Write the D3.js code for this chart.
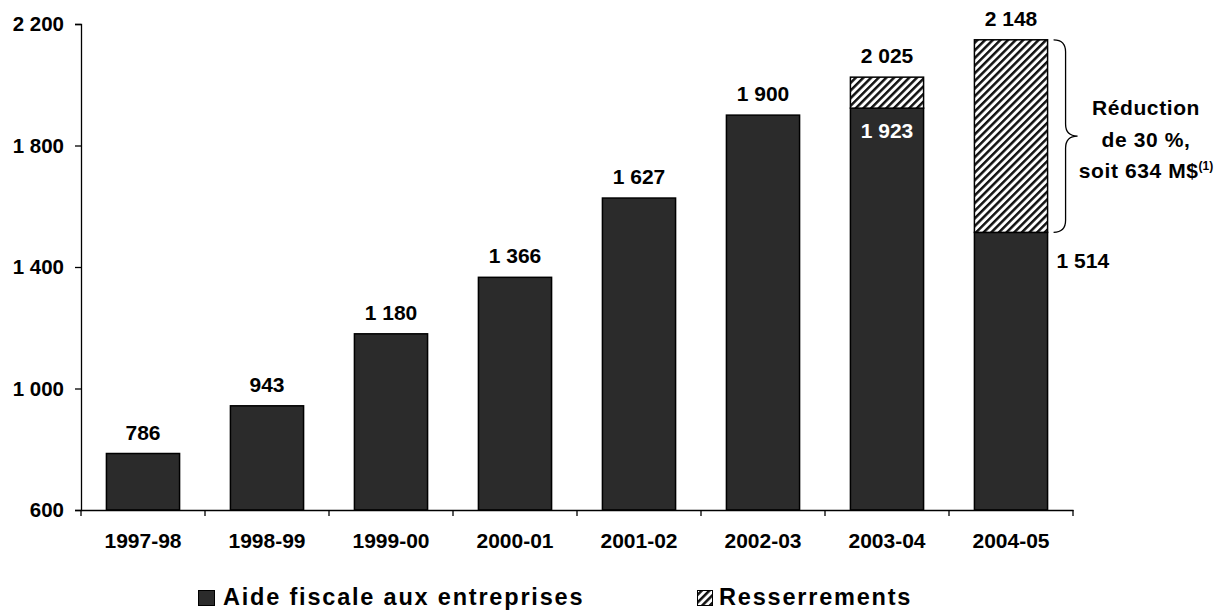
<!DOCTYPE html>
<html><head><meta charset="utf-8">
<script src="https://cdn.jsdelivr.net/npm/d3@7"></script>
<style>body{margin:0;background:#fff}svg{display:block;font-family:"Liberation Sans",Arial,sans-serif;font-weight:bold}</style>
</head><body><svg id="c" width="1229" height="611"></svg>
<script>
const categories = ["1997-98","1998-99","1999-00","2000-01","2001-02","2002-03","2003-04","2004-05"];
const aide = [786, 943, 1180, 1366, 1627, 1900, 1923, 1514];
const resserrements = [0, 0, 0, 0, 0, 0, 102, 634];
const totals = [786, 943, 1180, 1366, 1627, 1900, 2025, 2148];
const yTicks = [600, 1000, 1400, 1800, 2200];
const legendLabels = ["Aide fiscale aux entreprises", "Resserrements"];
const annotationLines = ["Réduction", "de 30 %,", "soit 634 M$"];

(function(){
const svg = d3.select("#c");
const fmt = v => String(v).replace(/\B(?=(\d{3})+(?!\d))/g, " ");
const x = d3.scaleBand().domain(categories).range([81, 1073]).paddingInner(0.41).paddingOuter(0.205);
const y = d3.scaleLinear().domain([600, 2200]).range([510, 24]);

const defs = svg.append("defs");
const pat = defs.append("pattern").attr("id","hatch").attr("patternUnits","userSpaceOnUse")
  .attr("width",5.4).attr("height",5.4).attr("patternTransform","rotate(45)");
pat.append("rect").attr("width",5.4).attr("height",5.4).attr("fill","#fff");
pat.append("rect").attr("x",0).attr("width",2.5).attr("height",5.4).attr("fill","#111");

const barColor = "#2b2b2b";
svg.append("g").selectAll("rect").data(categories).join("rect")
  .attr("x", d => x(d)).attr("width", x.bandwidth())
  .attr("y", (d,i) => y(aide[i])).attr("height", (d,i) => y(600) - y(aide[i]))
  .attr("fill", barColor).attr("stroke","#000").attr("stroke-width",1.5);
svg.append("g").selectAll("rect").data(categories.filter((d,i)=>resserrements[i]>0)).join("rect")
  .attr("x", d => x(d)).attr("width", x.bandwidth())
  .attr("y", d => { const i = categories.indexOf(d); return y(aide[i]+resserrements[i]); })
  .attr("height", d => { const i = categories.indexOf(d); return y(aide[i]) - y(aide[i]+resserrements[i]); })
  .attr("fill","url(#hatch)").attr("stroke","#000").attr("stroke-width",1.5);

const yAxis = svg.append("g").attr("transform","translate(81,0)")
  .call(d3.axisLeft(y).tickValues(yTicks).tickSize(6).tickPadding(11).tickFormat(fmt));
yAxis.selectAll("text").attr("font-size",20.5).attr("font-family","Liberation Sans, Arial").attr("font-weight","bold").attr("fill","#000");
yAxis.select(".domain").attr("stroke","#000").attr("stroke-width",1.3);
yAxis.selectAll(".tick line").attr("stroke","#000").attr("stroke-width",1.3);

const xAxis = svg.append("g").attr("transform","translate(0,510)")
  .call(d3.axisBottom(x).tickSize(0).tickPadding(23));
xAxis.selectAll("text").attr("font-size",21).attr("font-family","Liberation Sans, Arial").attr("font-weight","bold").attr("fill","#000");
xAxis.select(".domain").attr("stroke","#000").attr("stroke-width",1.3);
const step = x.step();
svg.append("g").selectAll("line").data(d3.range(categories.length+1)).join("line")
  .attr("x1", i => 81 + i*step).attr("x2", i => 81 + i*step)
  .attr("y1", 510).attr("y2", 516).attr("stroke","#000").attr("stroke-width",1.3);

svg.append("g").selectAll("text").data(categories).join("text")
  .attr("x", d => x(d) + x.bandwidth()/2)
  .attr("y", (d,i) => y(totals[i]) - 14)
  .attr("text-anchor","middle").attr("font-size",21).attr("fill","#000")
  .text((d,i) => fmt(totals[i]));
svg.append("text").attr("x", x("2003-04") + x.bandwidth()/2).attr("y", y(aide[6]) + 30)
  .attr("text-anchor","middle").attr("font-size",21).attr("fill","#fff").text(fmt(aide[6]));
svg.append("text").attr("x", x("2004-05") + x.bandwidth() + 9).attr("y", y(aide[7]) + 36)
  .attr("font-size",21).attr("fill","#000").text(fmt(aide[7]));

const bx = x("2004-05") + x.bandwidth() + 6;
const yTop = y(totals[7]), yBot = y(aide[7]), mid = (yTop+yBot)/2;
const bp = d3.path();
bp.moveTo(bx, yTop);
bp.quadraticCurveTo(bx+12, yTop, bx+12, yTop+12);
bp.lineTo(bx+12, mid-12);
bp.quadraticCurveTo(bx+12, mid, bx+24, mid);
bp.quadraticCurveTo(bx+12, mid, bx+12, mid+12);
bp.lineTo(bx+12, yBot-12);
bp.quadraticCurveTo(bx+12, yBot, bx, yBot);
svg.append("path").attr("d", bp.toString()).attr("fill","none").attr("stroke","#000").attr("stroke-width",1.3);

const ann = svg.append("g").attr("font-size",21).attr("fill","#000").attr("text-anchor","middle").attr("letter-spacing",0.6);
ann.append("text").attr("x",1146).attr("y",115).text(annotationLines[0]);
ann.append("text").attr("x",1146).attr("y",147).text(annotationLines[1]);
const t3 = ann.append("text").attr("x",1146).attr("y",178);
t3.append("tspan").text(annotationLines[2]);
t3.append("tspan").attr("font-size",12).attr("letter-spacing",0).attr("dy",-8).text("(1)");

const lg = svg.append("g").attr("font-size",23.5).attr("fill","#000").attr("letter-spacing",1.8);
lg.append("rect").attr("x",198.5).attr("y",590.5).attr("width",16).attr("height",15).attr("fill",barColor).attr("stroke","#000");
lg.append("text").attr("x",223).attr("y",605).text(legendLabels[0]);
lg.append("rect").attr("x",697.5).attr("y",590.5).attr("width",15).attr("height",15).attr("fill","url(#hatch)").attr("stroke","#000");
lg.append("text").attr("x",719).attr("y",605).text(legendLabels[1]);
})();
</script></body></html>
